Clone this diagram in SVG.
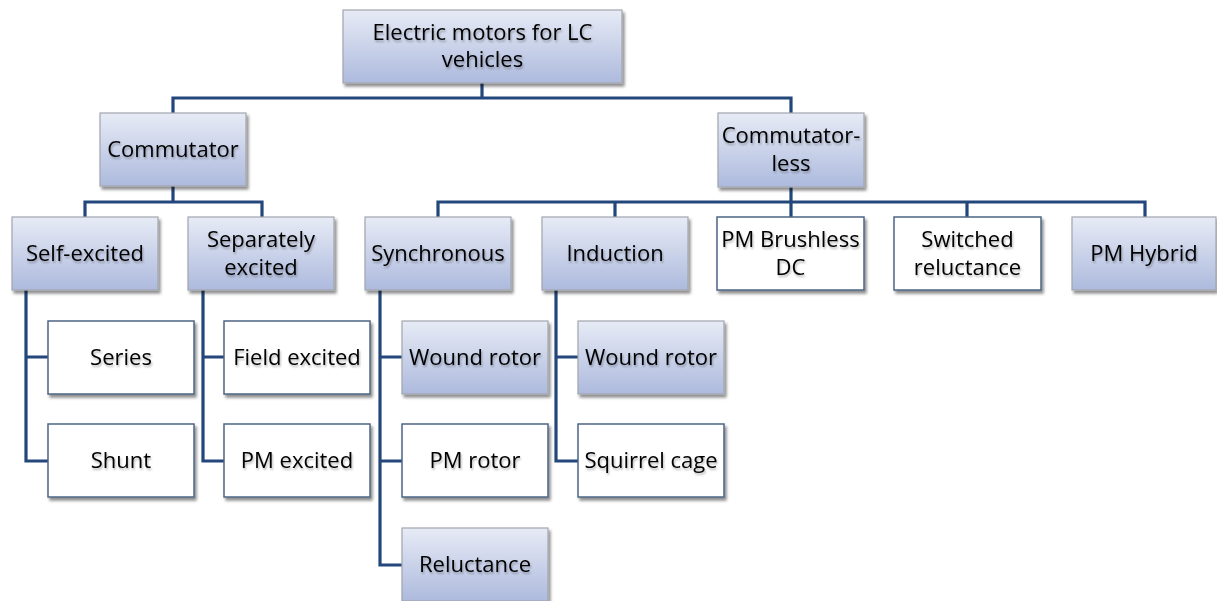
<svg xmlns="http://www.w3.org/2000/svg" width="1217" height="601" viewBox="0 0 1217 601">
<defs>
<linearGradient id="g" x1="0" y1="0" x2="0" y2="1">
<stop offset="0" stop-color="#e7ebf6"/>
<stop offset="1" stop-color="#adbadd"/>
</linearGradient>
<filter id="sh" x="-10%" y="-10%" width="125%" height="130%">
<feGaussianBlur in="SourceAlpha" stdDeviation="1.6"/>
<feOffset dx="2" dy="2.5" result="b"/>
<feComponentTransfer><feFuncA type="linear" slope="0.45"/></feComponentTransfer>
<feMerge><feMergeNode/><feMergeNode in="SourceGraphic"/></feMerge>
</filter>
<filter id="ts" x="-5%" y="-20%" width="115%" height="150%">
<feGaussianBlur in="SourceAlpha" stdDeviation="1"/>
<feOffset dx="1" dy="1.5" result="b"/>
<feComponentTransfer><feFuncA type="linear" slope="0.3"/></feComponentTransfer>
<feMerge><feMergeNode/><feMergeNode in="SourceGraphic"/></feMerge>
</filter>
</defs>
<style>
.g{fill:url(#g);stroke:#a2a6ae;stroke-width:1.2;filter:url(#sh)}
.w{fill:#ffffff;stroke:#4d6584;stroke-width:1.5;filter:url(#sh)}
text{font-family:"Open Sans","Liberation Sans",sans-serif;font-size:22px;fill:#000;text-anchor:middle;filter:url(#ts)}
.c path{fill:none;stroke:#23477a;stroke-width:3.2;stroke-linejoin:miter}
</style>
<rect width="1217" height="601" fill="#ffffff"/>
<g class="c" id="connectors">
<path d="M482 83V98M173 113V98H791V113"/>
<path d="M173 186V202M85 217V202H262V217"/>
<path d="M791 187V202M438 217V202H1145V217M615 202V217M791 202V217M967 202V217"/>
<path d="M26 290V461H48M26 357H48"/>
<path d="M203 290V461H224M203 357H224"/>
<path d="M380 290V565H402M380 357H402M380 461H402"/>
<path d="M556 290V461H578M556 357H578"/>
</g>
<g id="root"><rect class="g" x="343" y="10" width="279" height="73"/><text x="482.5" y="40">Electric motors for LC</text><text x="482.5" y="67">vehicles</text></g>
<g id="commutator"><rect class="g" x="100" y="113" width="146" height="73"/><text x="173" y="157">Commutator</text></g>
<g id="commutatorless"><rect class="g" x="718" y="113" width="146" height="74"/><text x="791" y="143">Commutator-</text><text x="791" y="171">less</text></g>
<g id="selfexcited"><rect class="g" x="12" y="217" width="146" height="73"/><text x="85" y="261">Self-excited</text></g>
<g id="separately"><rect class="g" x="188" y="217" width="146" height="73"/><text x="261" y="247">Separately</text><text x="261" y="275">excited</text></g>
<g id="synchronous"><rect class="g" x="365" y="217" width="146" height="73"/><text x="438" y="261">Synchronous</text></g>
<g id="induction"><rect class="g" x="542" y="217" width="146" height="73"/><text x="615" y="261">Induction</text></g>
<g id="pmbdc"><rect class="w" x="717" y="217" width="147" height="73"/><text x="790.5" y="247">PM Brushless</text><text x="790.5" y="275">DC</text></g>
<g id="switched"><rect class="w" x="894" y="217" width="147" height="73"/><text x="967.5" y="247">Switched</text><text x="967.5" y="275">reluctance</text></g>
<g id="pmhybrid"><rect class="g" x="1072" y="217" width="144" height="73"/><text x="1144" y="261">PM Hybrid</text></g>
<g id="series"><rect class="w" x="48" y="321" width="146" height="73"/><text x="121" y="365">Series</text></g>
<g id="shunt"><rect class="w" x="48" y="424" width="146" height="73"/><text x="121" y="468">Shunt</text></g>
<g id="field"><rect class="w" x="224" y="321" width="146" height="73"/><text x="297" y="365">Field excited</text></g>
<g id="pmexcited"><rect class="w" x="224" y="424" width="146" height="73"/><text x="297" y="468">PM excited</text></g>
<g id="woundsync"><rect class="g" x="402" y="321" width="146" height="73"/><text x="475" y="365">Wound rotor</text></g>
<g id="pmrotor"><rect class="w" x="402" y="424" width="146" height="73"/><text x="475" y="468">PM rotor</text></g>
<g id="reluctance"><rect class="g" x="402" y="528" width="146" height="73"/><text x="475" y="572">Reluctance</text></g>
<g id="woundind"><rect class="g" x="578" y="321" width="146" height="73"/><text x="651" y="365">Wound rotor</text></g>
<g id="squirrel"><rect class="w" x="578" y="424" width="146" height="73"/><text x="651" y="468">Squirrel cage</text></g>
</svg>
